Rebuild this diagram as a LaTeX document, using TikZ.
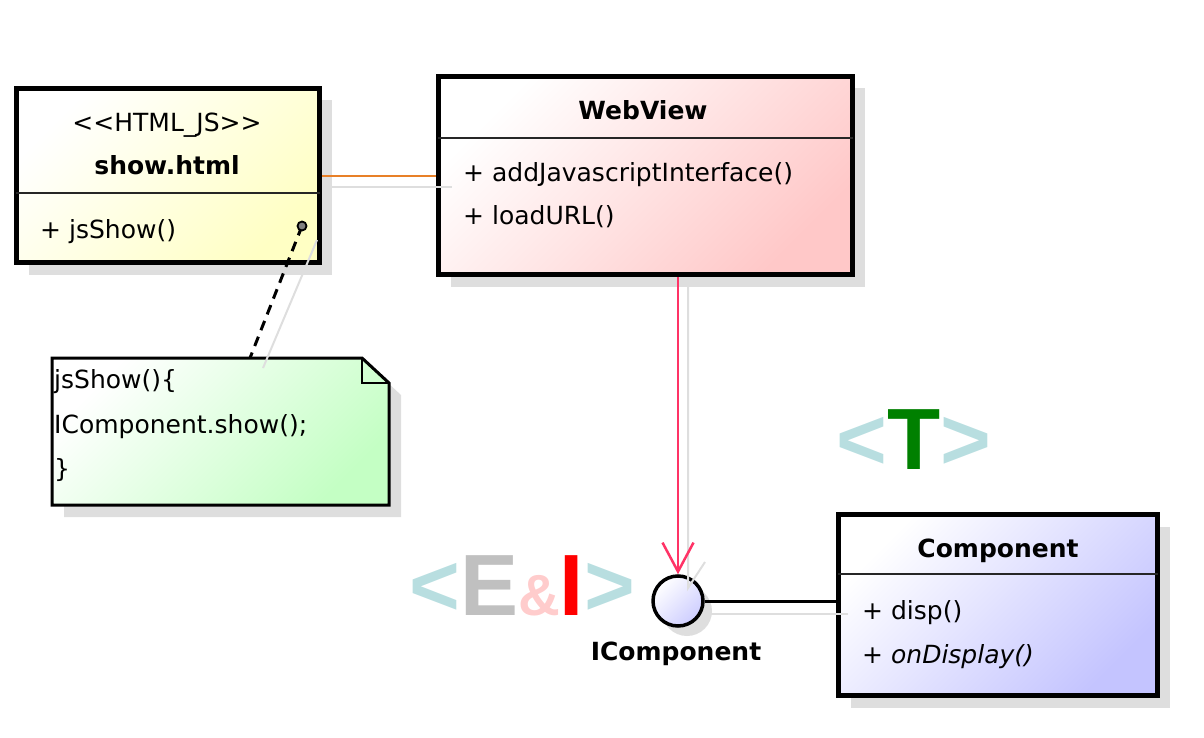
\documentclass[tikz,border=0pt]{standalone}
\usepackage{fontspec}
\setmainfont{DejaVu Sans}
\newfontfamily\bigfont{Liberation Sans}
\usetikzlibrary{arrows.meta,shadows}
\definecolor{yelc}{RGB}{255,255,196}
\definecolor{pinkbox}{RGB}{255,200,200}
\definecolor{greenbox}{RGB}{196,255,196}
\definecolor{bluebox}{RGB}{196,196,255}
\definecolor{circc}{RGB}{205,205,255}
\definecolor{orangec}{RGB}{232,128,40}
\definecolor{pinkc}{RGB}{255,51,102}
\definecolor{shadowc}{RGB}{222,222,222}
\definecolor{ltblue}{RGB}{184,222,224}
\definecolor{greyE}{RGB}{192,192,192}
\definecolor{ampc}{RGB}{255,204,204}
\definecolor{greenT}{RGB}{0,128,0}
\begin{document}
\begin{tikzpicture}[x=1pt,y=-1pt,
  classbox/.style={draw=black, line width=5pt, inner sep=0pt,
    top color=white, bottom color=#1, shading angle=45,
    drop shadow={shadow xshift=12pt, shadow yshift=-12pt, fill=shadowc, opacity=1}},
  sepline/.style={line width=1.8pt, draw=black!85},
  txt/.style={inner sep=0pt, font=\fontsize{25}{30}\selectfont},
  btxt/.style={inner sep=0pt, font=\fontsize{25}{30}\selectfont\bfseries},
  bigtxt/.style={inner sep=0pt, font=\bigfont\bfseries\fontsize{87}{87}\selectfont},
  shline/.style={draw=shadowc, line width=2pt},
  dashconn/.style={line width=3pt, dash pattern=on 10pt off 7pt},
]
\useasboundingbox (0,0) rectangle (1204,738);

% ---------- class boxes ----------
\node[classbox=yelc, minimum width=303pt, minimum height=174pt] (show) at (168,175.5) {};
\node[classbox=pinkbox, minimum width=414pt, minimum height=198pt] (webview) at (645.5,175.5) {};
\node[classbox=bluebox, minimum width=319pt, minimum height=181pt] (component) at (998,605) {};

% separators
\coordinate (s1) at (0,193);
\coordinate (s2) at (0,138);
\coordinate (s3) at (0,574);
\draw[sepline] ([xshift=2pt]show.west |- s1) -- ([xshift=-2pt]show.east |- s1);
\draw[sepline] ([xshift=2pt]webview.west |- s2) -- ([xshift=-2pt]webview.east |- s2);
\draw[sepline] ([xshift=2pt]component.west |- s3) -- ([xshift=-2pt]component.east |- s3);

% show.html texts
\node[txt, anchor=base] (stereo) at (167,132) {<{}<HTML\_JS>{}>};
\node[btxt, anchor=base] (showname) at (167,175) {show.html};
\node[txt, anchor=base west] (jsshow) at (40,238) {+ jsShow()};

% WebView texts
\node[btxt, anchor=base] (wvname) at (643,120) {WebView};
\node[txt, anchor=base west] (addjs) at (463,182) {+ addJavascriptInterface()};
\node[txt, anchor=base west] (loadurl) at (463,225) {+ loadURL()};

% Component texts
\node[btxt, anchor=base] (compname) at (998,557) {Component};
\node[txt, anchor=base west] (disp) at (862,619) {+ disp()};
\node[txt, anchor=base west] (ondisp) at (862,663) {+ \textit{onDisplay()}};

% ---------- note ----------
\fill[shadowc] (64,370) -- (374,370) -- (401,395) -- (401,517) -- (64,517) -- cycle;
\coordinate (n1) at (52,358);
\coordinate (n2) at (362,358);
\coordinate (n3) at (389,383);
\coordinate (n4) at (389,505);
\coordinate (n5) at (52,505);
\coordinate (nfold) at (362,383);
\coordinate (notetop) at (250,358);
\draw[line width=3pt, line join=miter, top color=white, bottom color=greenbox, shading angle=45]
  (n5) -- (n1) -- (n2) -- (n3) -- (n4) -- cycle;
\draw[line width=2.5pt] (n2) -- (nfold) -- (n3);
\node[txt, anchor=base west] (nl1) at (54,388) {jsShow()\{};
\node[txt, anchor=base west] (nl2) at (54,433) {IComponent.show();};
\node[txt, anchor=base west] (nl3) at (54,477) {\}};

% ---------- interface circle ----------
\node[circle, draw=black, line width=3.5pt, minimum size=50pt, inner sep=0pt,
  top color=white, bottom color=circc, shading angle=45,
  drop shadow={shadow xshift=9pt, shadow yshift=-10pt, fill=shadowc, opacity=1}] (icomp) at (678,601) {};
\node[btxt, anchor=base] (iclabel) at (676,660) {IComponent};

% ---------- connector shadows ----------
\draw[shline] (330,187) -- (452,187);
\draw[shline] (688,286) -- (688,588) -- (705,562);
\draw[shline] (708,614) -- (848,614);
\draw[shline] (317,240) -- (263,368);

% ---------- connectors ----------
\coordinate (oy) at (0,176);
\draw[orangec, line width=2.5pt] (show.east |- oy) -- (webview.west |- oy);
\draw[pinkc, line width=2.5pt, -{Straight Barb[length=29pt,width=31pt]}]
  (webview.south -| icomp.north) -- (icomp.north);
\draw[black, line width=3pt] (icomp.east) -- (component.west |- icomp.east);

% note anchor
\draw[dashconn] (302,226) -- (notetop);
\node[circle, draw=black, fill=gray, line width=1.8pt, minimum size=9pt, inner sep=0pt] (pinpt) at (302,226) {};

% ---------- big decorative letters ----------
\node[bigtxt, anchor=base west] (tparam) at (836,469)
  {\textcolor{ltblue}{<}\textcolor{greenT}{T}\textcolor{ltblue}{>}};
\node[bigtxt, anchor=base west] (eiparam) at (409,615)
  {\textcolor{ltblue}{<}\textcolor{greyE}{E}{\fontsize{58}{58}\selectfont\textcolor{ampc}{\&}}\textcolor{red}{I}\textcolor{ltblue}{>}};
\end{tikzpicture}
\end{document}
